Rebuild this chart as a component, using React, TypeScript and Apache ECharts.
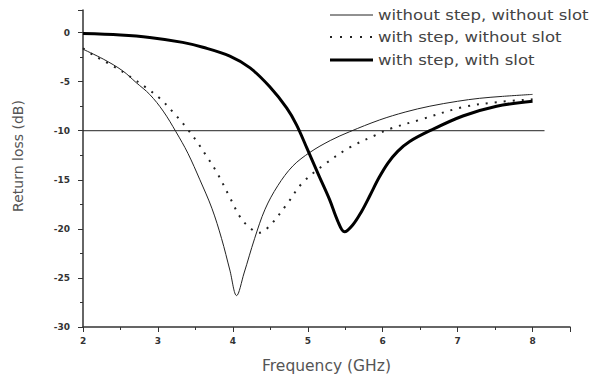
import React, { useEffect, useRef } from "react";
import * as echarts from "echarts";

const seriesNames = [
  "without step, without slot",
  "with step, without slot",
  "with step, with slot",
];

const xTicks = [2, 3, 4, 5, 6, 7, 8];
const yTicks = [-30, -25, -20, -15, -10, -5, 0];

// without step, without slot (thin solid)
const thinX = [2.0, 2.27, 2.53, 2.71, 2.89, 3.07, 3.24, 3.4, 3.56, 3.72, 3.85, 3.96, 4.05, 4.15, 4.29, 4.43, 4.6, 4.8, 5.03, 5.3, 5.56, 5.96, 6.3, 6.63, 7.0, 7.29, 7.6, 8.0];
const thinY = [-1.7, -2.7, -3.9, -5.1, -6.3, -8.0, -10.1, -12.3, -15.0, -17.9, -21.0, -24.2, -26.8, -24.5, -21.0, -18.0, -15.6, -13.6, -12.2, -11.0, -10.1, -8.9, -8.1, -7.5, -7.0, -6.7, -6.5, -6.3];

// with step, without slot (dotted)
const dotX = [2.0, 2.16, 2.4, 2.63, 2.84, 3.04, 3.2, 3.36, 3.51, 3.65, 3.79, 3.96, 4.09, 4.2, 4.35, 4.49, 4.72, 4.93, 5.23, 5.56, 5.92, 6.1, 6.49, 7.07, 7.52, 8.0];
const dotY = [-1.6, -2.4, -3.4, -4.5, -5.6, -6.8, -8.1, -9.5, -11.0, -12.6, -14.3, -16.8, -18.7, -19.7, -20.4, -19.7, -17.5, -15.3, -13.4, -11.7, -10.4, -9.8, -8.9, -7.6, -7.1, -6.8];

// with step, with slot (thick solid)
const thickX = [2.0, 2.5, 2.89, 3.33, 3.6, 3.96, 4.23, 4.49, 4.72, 4.85, 4.99, 5.15, 5.29, 5.4, 5.49, 5.6, 5.72, 5.83, 5.95, 6.07, 6.2, 6.36, 6.63, 7.07, 7.52, 8.0];
const thickY = [-0.1, -0.25, -0.5, -1.0, -1.5, -2.4, -3.6, -5.5, -7.7, -9.4, -11.8, -14.6, -17.0, -19.2, -20.3, -19.6, -18.2, -16.6, -14.8, -13.3, -12.1, -11.1, -10.0, -8.5, -7.5, -7.0];

// reference line at -10 dB
const refX = [2.0, 8.16];
const refY = [-10, -10];

const pairs = (xs: number[], ys: number[]) => xs.map((x, i) => [x, ys[i]]);

export default function App() {
  const ref = useRef<HTMLDivElement>(null);
  useEffect(() => {
    if (!ref.current) return;
    const chart = echarts.init(ref.current, null, { renderer: "svg" });
    const axisColor = "#333";
    const legendX0 = 330;
    const legendX1 = 373;
    const legendText = 378;
    const rows = [15, 37, 60];
    chart.setOption({
      animation: false,
      backgroundColor: "#fff",
      grid: { left: 83, right: 23, top: 10, bottom: 51 },
      xAxis: {
        type: "value",
        min: 2,
        max: 8.5,
        interval: 1,
        name: "Frequency (GHz)",
        nameLocation: "middle",
        nameGap: 31,
        nameTextStyle: { fontFamily: "DejaVu Sans", fontSize: 15.5, color: "#555" },
        axisLine: { show: true, onZero: false, lineStyle: { color: axisColor, width: 1.5 } },
        axisTick: { show: true, inside: false, length: 5, lineStyle: { color: axisColor } },
        minorTick: { show: true, splitNumber: 2, length: 3, lineStyle: { color: axisColor } },
        splitLine: { show: false },
        axisLabel: {
          margin: 9,
          fontFamily: "DejaVu Sans",
          fontWeight: "bold",
          fontSize: 9,
          color: "#333",
          formatter: (v: number) => (xTicks.includes(v) ? String(v) : ""),
        },
      },
      yAxis: {
        type: "value",
        min: -30,
        max: 2.3,
        interval: 5,
        axisLine: { show: true, onZero: false, lineStyle: { color: axisColor, width: 1.5 } },
        axisTick: { show: true, inside: false, length: 5, lineStyle: { color: axisColor } },
        minorTick: { show: true, splitNumber: 2, length: 3, lineStyle: { color: axisColor } },
        splitLine: { show: false },
        axisLabel: {
          margin: 13,
          fontFamily: "DejaVu Sans",
          fontWeight: "bold",
          fontSize: 9,
          color: "#333",
          formatter: (v: number) => (yTicks.includes(v) ? String(v) : ""),
        },
      },
      series: [
        {
          name: "ref",
          type: "line",
          data: pairs(refX, refY),
          symbol: "none",
          silent: true,
          lineStyle: { color: "#222", width: 1 },
        },
        {
          name: seriesNames[0],
          type: "line",
          data: pairs(thinX, thinY),
          symbol: "none",
          smooth: 0.35,
          lineStyle: { color: "#222", width: 1 },
        },
        {
          name: seriesNames[1],
          type: "line",
          data: pairs(dotX, dotY),
          symbol: "none",
          smooth: 0.35,
          lineStyle: { color: "#222", width: 2, type: [2, 7] },
        },
        {
          name: seriesNames[2],
          type: "line",
          data: pairs(thickX, thickY),
          symbol: "none",
          smooth: 0.35,
          lineStyle: { color: "#000", width: 3 },
        },
      ],
      graphic: [
        {
          type: "text",
          x: 18,
          y: 156,
          rotation: Math.PI / 2,
          style: {
            text: "Return loss (dB)",
            fontFamily: "DejaVu Sans",
            fontSize: 14,
            fill: "#555",
            align: "center",
            verticalAlign: "middle",
          },
        },
        {
          type: "line",
          shape: { x1: legendX0, y1: rows[0], x2: legendX1, y2: rows[0] },
          style: { stroke: "#222", lineWidth: 1 },
        },
        {
          type: "line",
          shape: { x1: legendX0, y1: rows[1], x2: legendX1, y2: rows[1] },
          style: { stroke: "#222", lineWidth: 2, lineDash: [2, 8] },
        },
        {
          type: "line",
          shape: { x1: legendX0, y1: rows[2], x2: legendX1, y2: rows[2] },
          style: { stroke: "#000", lineWidth: 3 },
        },
        ...seriesNames.map((n, i) => ({
          type: "text",
          x: legendText,
          y: rows[i],
          scaleX: 1.18,
          style: {
            text: n,
            fontFamily: "DejaVu Sans",
            fontSize: 14,
            fill: "#444",
            align: "left",
            verticalAlign: "middle",
          },
        })),
      ],
    });
    return () => chart.dispose();
  }, []);
  return (
    <div
      ref={ref}
      style={{ position: "fixed", left: 0, top: 0, width: 593, height: 379, background: "#fff" }}
    />
  );
}
